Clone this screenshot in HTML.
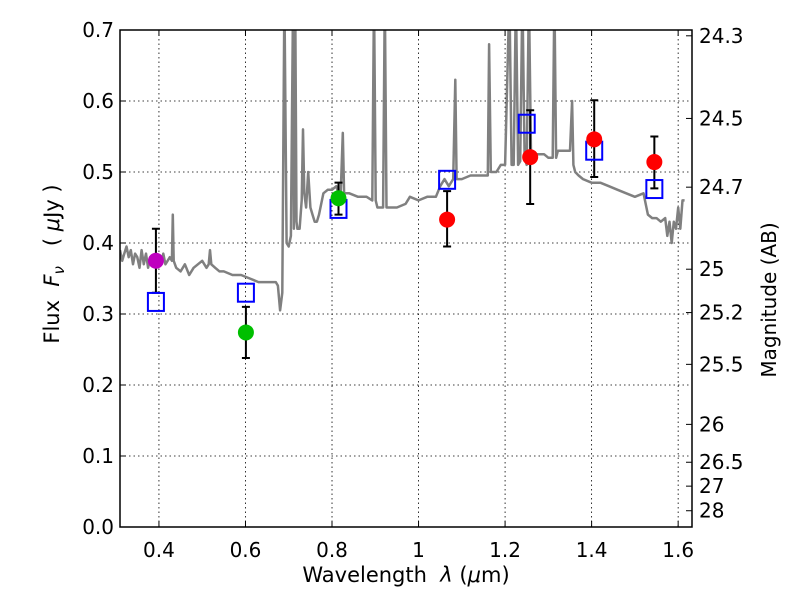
<!DOCTYPE html>
<html><head><meta charset="utf-8"><style>
html,body{margin:0;padding:0;background:#fff;}
svg text{font-family:"DejaVu Sans","Liberation Sans",sans-serif;fill:#000;white-space:pre;}
</style></head><body>
<svg id="chart" width="800" height="600" xmlns="http://www.w3.org/2000/svg">
<defs><clipPath id="clip"><rect x="120" y="30" width="572" height="497"/></clipPath></defs>
<rect x="0" y="0" width="800" height="600" fill="#fff"/>
<g id="grid"></g>
<g id="spec" clip-path="url(#clip)"></g>
<g id="marks"></g>
<rect x="120" y="30" width="572" height="497" fill="none" stroke="#000" stroke-width="1.5"/>
<g id="axes"></g>
<text x="406" y="582" font-size="21" text-anchor="middle">Wavelength&#160;&#160;<tspan font-style="italic">λ</tspan>&#160;(<tspan font-style="italic">μ</tspan>m)</text>
<text transform="translate(59,264) rotate(-90)" font-size="21" text-anchor="middle">Flux&#160;&#160;<tspan font-style="italic">F</tspan><tspan font-style="italic" font-size="15" dy="5">ν</tspan><tspan dy="-5">&#160;&#160;&#160;(&#160;</tspan><tspan font-style="italic">μ</tspan>Jy&#160;)</text>
<text transform="translate(776,300) rotate(-90)" font-size="20" text-anchor="middle">Magnitude (AB)</text>
</svg>
<script>
const xTicks=[0.4,0.6,0.8,1.0,1.2,1.4,1.6];
const xTickLabels=["0.4","0.6","0.8","1","1.2","1.4","1.6"];
const yTicks=[0,0.1,0.2,0.3,0.4,0.5,0.6,0.7];
const yTickLabels=["0.0","0.1","0.2","0.3","0.4","0.5","0.6","0.7"];
const magTicks=[24.3,24.5,24.7,25,25.2,25.5,26,26.5,27,28];
const magLabels=["24.3","24.5","24.7","25","25.2","25.5","26","26.5","27","28"];
const specWave=[0.31,0.315,0.32,0.325,0.33,0.335,0.34,0.345,0.35,0.355,0.36,0.365,0.37,0.375,0.38,0.385,0.39,0.395,0.40,0.405,0.41,0.415,0.42,0.425,0.43,0.432,0.434,0.44,0.45,0.46,0.47,0.48,0.49,0.50,0.51,0.515,0.518,0.521,0.53,0.54,0.55,0.57,0.59,0.61,0.63,0.65,0.67,0.675,0.68,0.685,0.69,0.695,0.70,0.705,0.71,0.712,0.715,0.718,0.72,0.725,0.73,0.733,0.736,0.74,0.745,0.75,0.755,0.76,0.765,0.77,0.78,0.79,0.80,0.81,0.815,0.82,0.825,0.828,0.832,0.84,0.86,0.88,0.893,0.897,0.901,0.905,0.91,0.918,0.922,0.926,0.930,0.935,0.95,0.97,0.98,1.0,1.02,1.04,1.05,1.06,1.07,1.08,1.085,1.088,1.092,1.10,1.12,1.14,1.16,1.163,1.167,1.171,1.18,1.19,1.20,1.21,1.215,1.22,1.225,1.23,1.235,1.24,1.245,1.25,1.255,1.26,1.27,1.28,1.29,1.30,1.31,1.314,1.318,1.322,1.33,1.34,1.35,1.355,1.358,1.362,1.37,1.38,1.40,1.42,1.44,1.46,1.48,1.50,1.52,1.53,1.54,1.55,1.56,1.57,1.575,1.58,1.585,1.59,1.595,1.60,1.605,1.61,1.615,1.62,1.632];
const specFlux=[0.39,0.375,0.385,0.395,0.38,0.39,0.37,0.385,0.38,0.365,0.39,0.37,0.385,0.365,0.38,0.37,0.375,0.38,0.375,0.37,0.385,0.37,0.375,0.38,0.375,0.44,0.375,0.365,0.36,0.37,0.355,0.365,0.37,0.375,0.365,0.37,0.39,0.37,0.365,0.36,0.36,0.355,0.355,0.35,0.345,0.345,0.345,0.34,0.305,0.33,0.75,0.40,0.395,0.41,0.75,0.42,0.75,0.43,0.42,0.42,0.46,0.56,0.47,0.45,0.50,0.45,0.44,0.43,0.43,0.44,0.47,0.475,0.475,0.48,0.47,0.47,0.555,0.47,0.47,0.47,0.465,0.465,0.46,0.75,0.46,0.45,0.45,0.45,0.75,0.45,0.45,0.45,0.45,0.455,0.465,0.46,0.465,0.465,0.48,0.49,0.48,0.49,0.63,0.49,0.49,0.49,0.495,0.495,0.495,0.68,0.50,0.50,0.50,0.51,0.51,0.75,0.51,0.51,0.75,0.51,0.515,0.75,0.52,0.51,0.75,0.525,0.525,0.525,0.525,0.52,0.52,0.75,0.52,0.53,0.53,0.53,0.53,0.60,0.51,0.50,0.495,0.49,0.485,0.485,0.48,0.475,0.47,0.465,0.47,0.44,0.435,0.435,0.43,0.435,0.41,0.43,0.40,0.43,0.42,0.45,0.42,0.46,0.46];
const ptWave=[0.393,0.601,0.815,1.066,1.258,1.406,1.545];
const ptFlux=[0.375,0.274,0.463,0.433,0.521,0.546,0.514];
const errLo=[0.33,0.238,0.44,0.395,0.455,0.493,0.477];
const errHi=[0.42,0.31,0.485,0.473,0.587,0.601,0.550];
const ptColors=["#bf00bf","#00bf00","#00bf00","#ff0000","#ff0000","#ff0000","#ff0000"];
const modelWave=[0.393,0.601,0.815,1.066,1.250,1.406,1.545];
const modelFlux=[0.317,0.330,0.448,0.489,0.568,0.530,0.476];

const X0=120,X1=692,Y0=527,Y1=30,XMIN=0.31,XMAX=1.632,YMIN=0,YMAX=0.7;
const sx=v=>X0+(v-XMIN)/(XMAX-XMIN)*(X1-X0);
const sy=v=>Y0-(v-YMIN)/(YMAX-YMIN)*(Y0-Y1);
const NS="http://www.w3.org/2000/svg";
function mk(tag,attrs,parent){const e=document.createElementNS(NS,tag);for(const k in attrs)e.setAttribute(k,attrs[k]);parent.appendChild(e);return e;}
const grid=document.getElementById('grid'),axes=document.getElementById('axes'),spec=document.getElementById('spec'),marks=document.getElementById('marks');
xTicks.forEach((t,i)=>{const x=sx(t);
 const g=mk('line',{x1:x,x2:x,y1:Y1,y2:Y0,stroke:'#000','stroke-width':0.8,'stroke-dasharray':'1.5,3'},grid);
 
 
 mk('line',{x1:x,x2:x,y1:Y0,y2:Y0-6,stroke:'#000'},axes);
 mk('line',{x1:x,x2:x,y1:Y1,y2:Y1+6,stroke:'#000'},axes);
 const tx=mk('text',{x:x,y:Y0+30,'font-size':20,'text-anchor':'middle'},axes);tx.textContent=xTickLabels[i];
 
 });
yTicks.forEach((t,i)=>{const y=sy(t);
 const g=mk('line',{x1:X0,x2:X1,y1:y,y2:y,stroke:'#000','stroke-width':0.8,'stroke-dasharray':'1.5,3'},grid);
 
 
 mk('line',{x1:X0,x2:X0+6,y1:y,y2:y,stroke:'#000'},axes);
 const tx=mk('text',{x:X0-6,y:y+7,'font-size':20,'text-anchor':'end'},axes);tx.textContent=yTickLabels[i];
 
 });
magTicks.forEach((m,i)=>{const y=sy(Math.pow(10,(23.9-m)/2.5));
 mk('line',{x1:X1,x2:X1-6,y1:y,y2:y,stroke:'#000'},axes);
 const tx=mk('text',{x:X1+7,y:y+7,'font-size':20},axes);tx.textContent=magLabels[i];
 
 });
let d=specWave.map((w,i)=>(i?'L':'M')+sx(w).toFixed(1)+','+sy(specFlux[i]).toFixed(1)).join('');
const sp=mk('path',{d:d,fill:'none',stroke:'#808080','stroke-width':2.5,'stroke-linejoin':'round'},spec);


ptWave.forEach((w,i)=>{const x=sx(w);
 const e=mk('path',{d:`M${x-4},${sy(errHi[i])}H${x+4}M${x},${sy(errHi[i])}V${sy(errLo[i])}M${x-4},${sy(errLo[i])}H${x+4}`,stroke:'#000','stroke-width':2,fill:'none'},marks);
 
 });
modelWave.forEach((w,i)=>{const x=sx(w),y=sy(modelFlux[i]);
 const r=mk('rect',{x:x-8,y:y-9,width:16,height:18,fill:'none',stroke:'#0000ff','stroke-width':2},marks);
 
 });
ptWave.forEach((w,i)=>{
 const c=mk('circle',{cx:sx(w),cy:sy(ptFlux[i]),r:8,fill:ptColors[i]},marks);
 
 });
</script>
</body></html>
